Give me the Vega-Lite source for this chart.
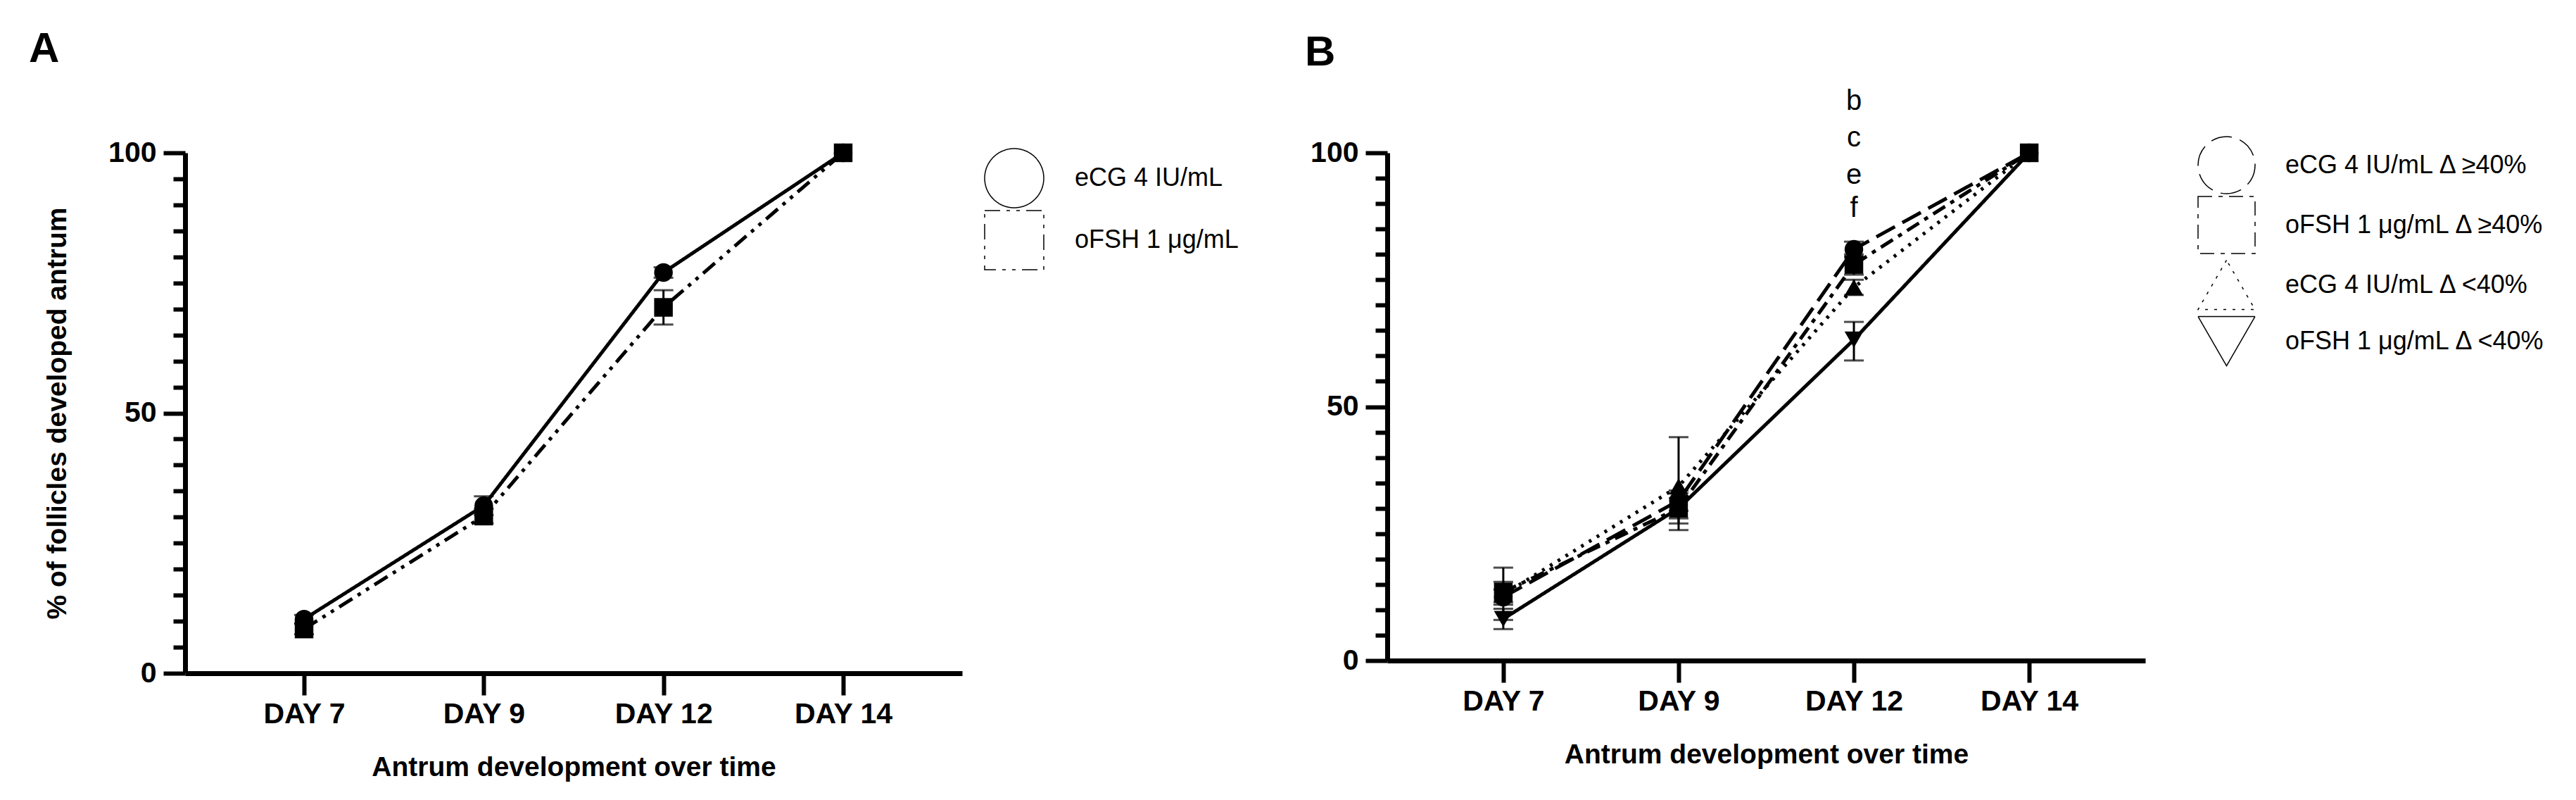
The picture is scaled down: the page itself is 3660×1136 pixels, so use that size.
{
  "$schema": "https://vega.github.io/schema/vega-lite/v6.json",
  "background": "white",
  "autosize": {"type": "none"},
  "padding": {"left": 263, "top": 217, "right": 3397, "bottom": 919},
  "bounds": "flush",
  "spacing": 604,
  "resolve": {
    "scale": {"shape": "independent", "strokeDash": "independent"},
    "legend": {"shape": "independent", "strokeDash": "independent"}
  },
  "config": {
    "view": {"stroke": null},
    "font": "Liberation Sans",
    "axis": {
      "grid": false,
      "domainColor": "black",
      "domainWidth": 7,
      "tickColor": "black",
      "tickWidth": 6,
      "tickSize": 31,
      "labelColor": "black",
      "labelFont": "Liberation Sans",
      "labelFontSize": 41,
      "labelFontWeight": "bold",
      "labelOverlap": false,
      "labelFlush": false,
      "titleColor": "black",
      "titleFont": "Liberation Sans",
      "titleFontSize": 39,
      "titleFontWeight": "bold"
    },
    "legend": {
      "title": null,
      "padding": 0,
      "labelOffset": 42,
      "labelFont": "Liberation Sans",
      "labelFontSize": 36,
      "labelColor": "black",
      "labelLimit": 1000
    },
    "title": {"font": "Liberation Sans", "fontSize": 60, "fontWeight": "bold", "color": "black", "anchor": "start", "frame": "group", "offset": 0}
  },
  "datasets": {
    "a": [
      {"day": "DAY 7", "group": "eCG 4 IU/mL", "value": 10.4, "lo": 9.6, "hi": 11.2},
      {"day": "DAY 9", "group": "eCG 4 IU/mL", "value": 32.2, "lo": 30.4, "hi": 34},
      {"day": "DAY 12", "group": "eCG 4 IU/mL", "value": 77, "lo": 76, "hi": 78},
      {"day": "DAY 14", "group": "eCG 4 IU/mL", "value": 100, "lo": 100, "hi": 100},
      {"day": "DAY 7", "group": "oFSH 1 μg/mL", "value": 8.5, "lo": 7.5, "hi": 9.5},
      {"day": "DAY 9", "group": "oFSH 1 μg/mL", "value": 30.2, "lo": 28.8, "hi": 31.6},
      {"day": "DAY 12", "group": "oFSH 1 μg/mL", "value": 70.3, "lo": 67, "hi": 73.6},
      {"day": "DAY 14", "group": "oFSH 1 μg/mL", "value": 100, "lo": 100, "hi": 100}
    ],
    "b": [
      {"day": "DAY 7", "group": "eCG 4 IU/mL Δ ≥40%", "value": 12.5, "lo": 11, "hi": 14},
      {"day": "DAY 9", "group": "eCG 4 IU/mL Δ ≥40%", "value": 31.5, "lo": 29.5, "hi": 33.5},
      {"day": "DAY 12", "group": "eCG 4 IU/mL Δ ≥40%", "value": 81, "lo": 79.5, "hi": 82.5},
      {"day": "DAY 14", "group": "eCG 4 IU/mL Δ ≥40%", "value": 100, "lo": 100, "hi": 100},
      {"day": "DAY 7", "group": "oFSH 1 μg/mL Δ ≥40%", "value": 13.5, "lo": 11.5, "hi": 15.5},
      {"day": "DAY 9", "group": "oFSH 1 μg/mL Δ ≥40%", "value": 30, "lo": 28, "hi": 32},
      {"day": "DAY 12", "group": "oFSH 1 μg/mL Δ ≥40%", "value": 78, "lo": 76, "hi": 80},
      {"day": "DAY 14", "group": "oFSH 1 μg/mL Δ ≥40%", "value": 100, "lo": 100, "hi": 100},
      {"day": "DAY 7", "group": "eCG 4 IU/mL Δ <40%", "value": 13, "lo": 8, "hi": 18.3},
      {"day": "DAY 9", "group": "eCG 4 IU/mL Δ <40%", "value": 34.3, "lo": 25.7, "hi": 44},
      {"day": "DAY 12", "group": "eCG 4 IU/mL Δ <40%", "value": 73.5, "lo": 72, "hi": 75},
      {"day": "DAY 14", "group": "eCG 4 IU/mL Δ <40%", "value": 100, "lo": 100, "hi": 100},
      {"day": "DAY 7", "group": "oFSH 1 μg/mL Δ <40%", "value": 8.2, "lo": 6.2, "hi": 10.2},
      {"day": "DAY 9", "group": "oFSH 1 μg/mL Δ <40%", "value": 30, "lo": 27, "hi": 33},
      {"day": "DAY 12", "group": "oFSH 1 μg/mL Δ <40%", "value": 63.2, "lo": 59.1, "hi": 66.7},
      {"day": "DAY 14", "group": "oFSH 1 μg/mL Δ <40%", "value": 100, "lo": 100, "hi": 100}
    ],
    "letters": [
      {"day": "DAY 12", "value": 110.1, "letter": "b"},
      {"day": "DAY 12", "value": 102.9, "letter": "c"},
      {"day": "DAY 12", "value": 95.6, "letter": "e"},
      {"day": "DAY 12", "value": 89, "letter": "f"}
    ]
  },
  "hconcat": [
    {
      "title": {"text": "A", "dx": -222, "dy": -91},
      "width": 1104,
      "height": 739,
      "data": {"name": "a"},
      "encoding": {
        "x": {
          "field": "day", "type": "ordinal",
          "scale": {"type": "point", "domain": ["DAY 7", "DAY 9", "DAY 12", "DAY 14"], "padding": 0.662},
          "axis": {"labelAngle": 0, "labelPadding": 7, "title": "Antrum development over time", "titlePadding": 36}
        },
        "y": {
          "field": "value", "type": "quantitative",
          "scale": {"domain": [0, 100], "nice": false, "zero": true},
          "axis": {
            "values": [0, 5, 10, 15, 20, 25, 30, 35, 40, 45, 50, 55, 60, 65, 70, 75, 80, 85, 90, 95, 100],
            "labelExpr": "datum.value % 50 === 0 ? datum.label : ''",
            "tickSize": {"condition": {"test": "datum.value % 50 === 0", "value": 31}, "value": 17},
            "labelPadding": 10,
            "title": "% of follicles developed antrum",
            "titlePadding": 52
          }
        }
      },
      "layer": [
        {
          "mark": {"type": "line", "color": "black", "strokeWidth": 5},
          "encoding": {
            "strokeDash": {
              "field": "group", "type": "nominal",
              "scale": {"domain": ["eCG 4 IU/mL", "oFSH 1 μg/mL"], "range": [[1, 0], [22, 9, 5, 9, 5, 9]]},
              "legend": {
                "orient": "none", "legendX": 1135, "legendY": -7, "title": null,
                "symbolSize": 7056, "labelOffset": 43, "rowPadding": -11, "padding": 0,
                "labelFont": "Liberation Sans", "labelFontSize": 36, "labelColor": "black", "labelLimit": 1000
              }
            }
          }
        },
        {
          "transform": [{"filter": "datum.hi > datum.lo"}],
          "mark": {"type": "errorbar", "color": "black", "ticks": {"size": 28, "thickness": 3, "color": "black"}, "rule": {"strokeWidth": 3}},
          "encoding": {
            "y": {"field": "lo", "type": "quantitative"},
            "y2": {"field": "hi"},
            "detail": {"field": "group", "type": "nominal"}
          }
        },
        {
          "mark": {"type": "point", "filled": true, "color": "black", "opacity": 1, "size": 700},
          "encoding": {
            "shape": {
              "field": "group", "type": "nominal",
              "scale": {"domain": ["eCG 4 IU/mL", "oFSH 1 μg/mL"], "range": ["circle", "square"]},
              "legend": {
                "orient": "none", "legendX": 1135, "legendY": -7, "title": null,
                "symbolSize": 7056, "labelOffset": 43, "rowPadding": -11, "padding": 0,
                "labelFont": "Liberation Sans", "labelFontSize": 36, "labelColor": "black", "labelLimit": 1000
              }
            }
          }
        }
      ]
    },
    {
      "title": {"text": "B", "dx": -117, "dy": -14},
      "width": 1077,
      "height": 721,
      "encoding": {
        "x": {
          "field": "day", "type": "ordinal",
          "scale": {"type": "point", "domain": ["DAY 7", "DAY 9", "DAY 12", "DAY 14"], "padding": 0.662},
          "axis": {"labelAngle": 0, "labelPadding": 7, "title": "Antrum development over time", "titlePadding": 36}
        },
        "y": {
          "field": "value", "type": "quantitative",
          "scale": {"domain": [0, 100], "nice": false, "zero": true},
          "axis": {
            "values": [0, 5, 10, 15, 20, 25, 30, 35, 40, 45, 50, 55, 60, 65, 70, 75, 80, 85, 90, 95, 100],
            "labelExpr": "datum.value % 50 === 0 ? datum.label : ''",
            "tickSize": {"condition": {"test": "datum.value % 50 === 0", "value": 31}, "value": 17},
            "labelPadding": 10,
            "title": null
          }
        }
      },
      "layer": [
        {
          "data": {"name": "b"},
          "mark": {"type": "line", "color": "black", "strokeWidth": 5},
          "encoding": {
            "strokeDash": {
              "field": "group", "type": "nominal",
              "scale": {
                "domain": ["eCG 4 IU/mL Δ ≥40%", "oFSH 1 μg/mL Δ ≥40%", "eCG 4 IU/mL Δ <40%", "oFSH 1 μg/mL Δ <40%"],
                "range": [[30, 12], [20, 9, 6, 9], [4, 9], [1, 0]]
              },
              "legend": {
                "orient": "none", "legendX": 1151, "legendY": -24, "title": null,
                "symbolSize": 6561, "labelOffset": 42, "rowPadding": -11, "padding": 0,
                "labelFont": "Liberation Sans", "labelFontSize": 36, "labelColor": "black", "labelLimit": 1000
              }
            }
          }
        },
        {
          "data": {"name": "b"},
          "transform": [{"filter": "datum.hi > datum.lo"}],
          "mark": {"type": "errorbar", "color": "black", "ticks": {"size": 28, "thickness": 3, "color": "black"}, "rule": {"strokeWidth": 3}},
          "encoding": {
            "y": {"field": "lo", "type": "quantitative"},
            "y2": {"field": "hi"},
            "detail": {"field": "group", "type": "nominal"}
          }
        },
        {
          "data": {"name": "b"},
          "mark": {"type": "point", "filled": true, "color": "black", "opacity": 1, "size": 700},
          "encoding": {
            "shape": {
              "field": "group", "type": "nominal",
              "scale": {
                "domain": ["eCG 4 IU/mL Δ ≥40%", "oFSH 1 μg/mL Δ ≥40%", "eCG 4 IU/mL Δ <40%", "oFSH 1 μg/mL Δ <40%"],
                "range": ["circle", "square", "triangle-up", "triangle-down"]
              },
              "legend": {
                "orient": "none", "legendX": 1151, "legendY": -24, "title": null,
                "symbolSize": 6561, "labelOffset": 42, "rowPadding": -11, "padding": 0,
                "labelFont": "Liberation Sans", "labelFontSize": 36, "labelColor": "black", "labelLimit": 1000
              }
            }
          }
        },
        {
          "data": {"name": "letters"},
          "mark": {"type": "text", "font": "Liberation Sans", "fontSize": 40, "color": "black", "align": "center", "baseline": "middle"},
          "encoding": {
            "text": {"field": "letter", "type": "nominal"}
          }
        }
      ]
    }
  ]
}
